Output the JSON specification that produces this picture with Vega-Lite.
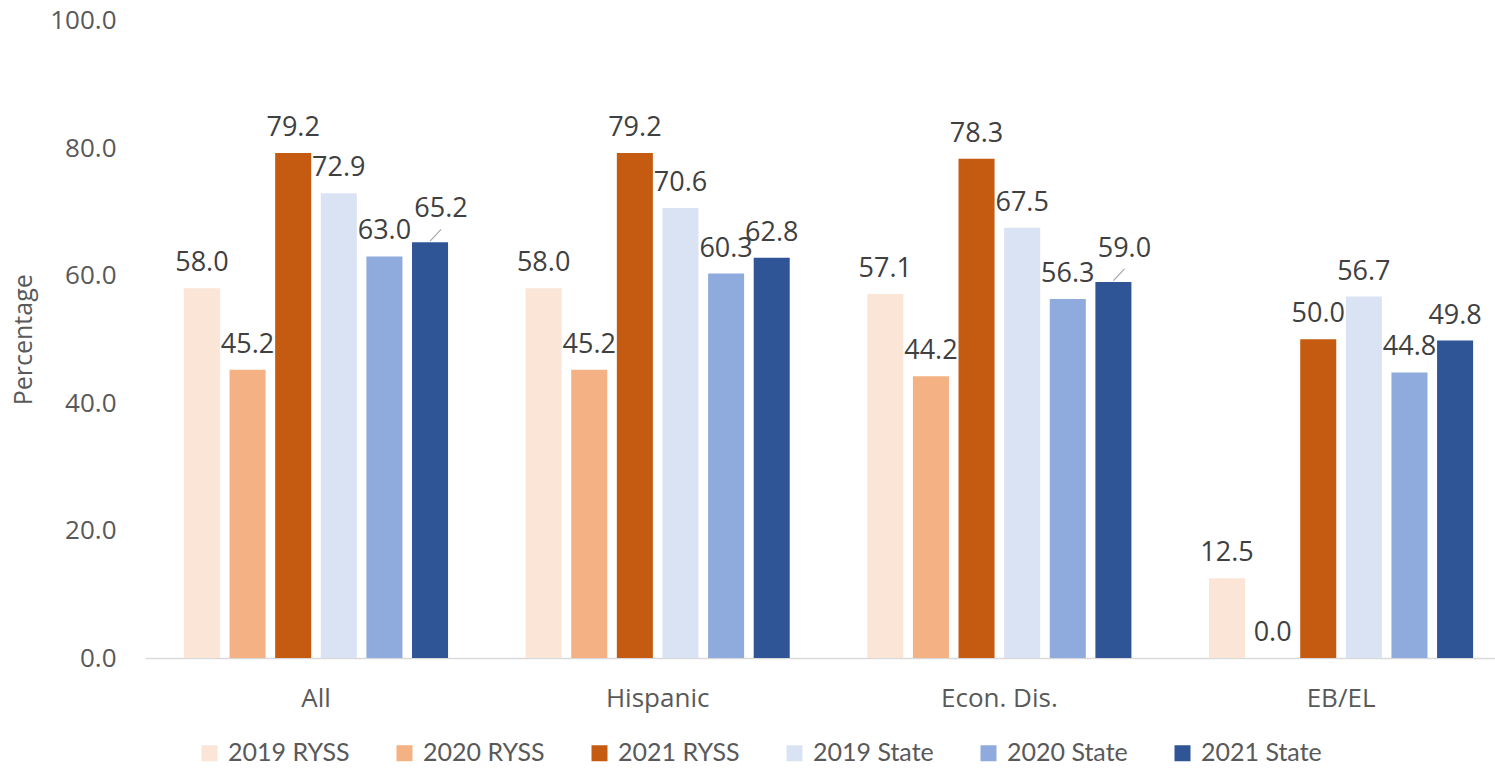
{
  "$schema": "https://vega.github.io/schema/vega-lite/v6.json",
  "width": 1350,
  "height": 637.5,
  "autosize": {"type": "none"},
  "padding": {"left": 145, "right": 0, "top": 20.5, "bottom": 112},
  "background": "white",
  "config": {"view": {"stroke": null}},
  "data": {
    "values": [
      {"group": "All", "series": "2019 RYSS", "value": 58.0},
      {"group": "All", "series": "2020 RYSS", "value": 45.2},
      {"group": "All", "series": "2021 RYSS", "value": 79.2},
      {"group": "All", "series": "2019 State", "value": 72.9},
      {"group": "All", "series": "2020 State", "value": 63.0},
      {"group": "All", "series": "2021 State", "value": 65.2},
      {"group": "Hispanic", "series": "2019 RYSS", "value": 58.0},
      {"group": "Hispanic", "series": "2020 RYSS", "value": 45.2},
      {"group": "Hispanic", "series": "2021 RYSS", "value": 79.2},
      {"group": "Hispanic", "series": "2019 State", "value": 70.6},
      {"group": "Hispanic", "series": "2020 State", "value": 60.3},
      {"group": "Hispanic", "series": "2021 State", "value": 62.8},
      {"group": "Econ. Dis.", "series": "2019 RYSS", "value": 57.1},
      {"group": "Econ. Dis.", "series": "2020 RYSS", "value": 44.2},
      {"group": "Econ. Dis.", "series": "2021 RYSS", "value": 78.3},
      {"group": "Econ. Dis.", "series": "2019 State", "value": 67.5},
      {"group": "Econ. Dis.", "series": "2020 State", "value": 56.3},
      {"group": "Econ. Dis.", "series": "2021 State", "value": 59.0},
      {"group": "EB/EL", "series": "2019 RYSS", "value": 12.5},
      {"group": "EB/EL", "series": "2020 RYSS", "value": 0.0},
      {"group": "EB/EL", "series": "2021 RYSS", "value": 50.0},
      {"group": "EB/EL", "series": "2019 State", "value": 56.7},
      {"group": "EB/EL", "series": "2020 State", "value": 44.8},
      {"group": "EB/EL", "series": "2021 State", "value": 49.8}
    ]
  },
  "encoding": {
    "x": {
      "field": "group",
      "type": "nominal",
      "sort": ["All", "Hispanic", "Econ. Dis.", "EB/EL"],
      "scale": {"paddingInner": 0.227, "paddingOuter": 0.089, "align": 0.64},
      "axis": {
        "title": null,
        "labelAngle": 0,
        "labelFont": "Open Sans",
        "labelFontSize": 26,
        "labelColor": "#595959",
        "labelPadding": 27,
        "ticks": false,
        "domainColor": "#D9D9D9",
        "domainWidth": 1.5
      }
    },
    "xOffset": {
      "field": "series",
      "type": "nominal",
      "sort": ["2019 RYSS", "2020 RYSS", "2021 RYSS", "2019 State", "2020 State", "2021 State"],
      "scale": {"paddingInner": 0.21}
    },
    "y": {
      "field": "value",
      "type": "quantitative",
      "scale": {"domain": [0, 100]},
      "axis": {
        "title": "Percentage",
        "titleFont": "Open Sans",
        "titleFontSize": 25,
        "titleFontWeight": "normal",
        "titleColor": "#595959",
        "titlePadding": 13,
        "values": [0, 20, 40, 60, 80, 100],
        "format": ".1f",
        "labelFont": "Open Sans",
        "labelFontSize": 26,
        "labelColor": "#595959",
        "labelPadding": 29,
        "domain": false,
        "ticks": false,
        "grid": false
      }
    }
  },
  "layer": [
    {
      "mark": {"type": "bar"},
      "encoding": {
        "color": {
          "field": "series",
          "type": "nominal",
          "sort": ["2019 RYSS", "2020 RYSS", "2021 RYSS", "2019 State", "2020 State", "2021 State"],
          "scale": {
            "domain": ["2019 RYSS", "2020 RYSS", "2021 RYSS", "2019 State", "2020 State", "2021 State"],
            "range": ["#FBE5D6", "#F4B183", "#C55A11", "#DAE3F3", "#8FAADC", "#2F5597"]
          },
          "legend": {
            "orient": "none",
            "legendX": 52,
            "legendY": 720,
            "direction": "horizontal",
            "title": null,
            "symbolType": "square",
            "symbolSize": 256,
            "symbolStrokeWidth": 0,
            "labelFont": "Lato",
            "labelFontSize": 25,
            "labelColor": "#595959",
            "labelOffset": 6,
            "columnPadding": 42
          }
        }
      }
    },
    {
      "transform": [{"filter": "!((datum.group === 'All' || datum.group === 'Econ. Dis.') && datum.series === '2021 State')"}],
      "mark": {
        "type": "text",
        "baseline": "alphabetic",
        "dy": -17,
        "font": "Open Sans",
        "fontSize": 27,
        "color": "#404040"
      },
      "encoding": {
        "text": {"field": "value", "type": "quantitative", "format": ".1f"}
      }
    },
    {
      "transform": [{"filter": "(datum.group === 'All' || datum.group === 'Econ. Dis.') && datum.series === '2021 State'"}],
      "mark": {
        "type": "text",
        "baseline": "alphabetic",
        "dy": -25,
        "dx": 11,
        "font": "Open Sans",
        "fontSize": 27,
        "color": "#404040"
      },
      "encoding": {
        "text": {"field": "value", "type": "quantitative", "format": ".1f"}
      }
    },
    {
      "transform": [{"filter": "(datum.group === 'All' || datum.group === 'Econ. Dis.') && datum.series === '2021 State'"}],
      "mark": {
        "type": "point",
        "shape": "M0,-0.1L0.85,-1",
        "size": 676,
        "filled": false,
        "stroke": "#A6A6A6",
        "strokeWidth": 1.2,
        "opacity": 1
      },
      "encoding": {}
    }
  ]
}
